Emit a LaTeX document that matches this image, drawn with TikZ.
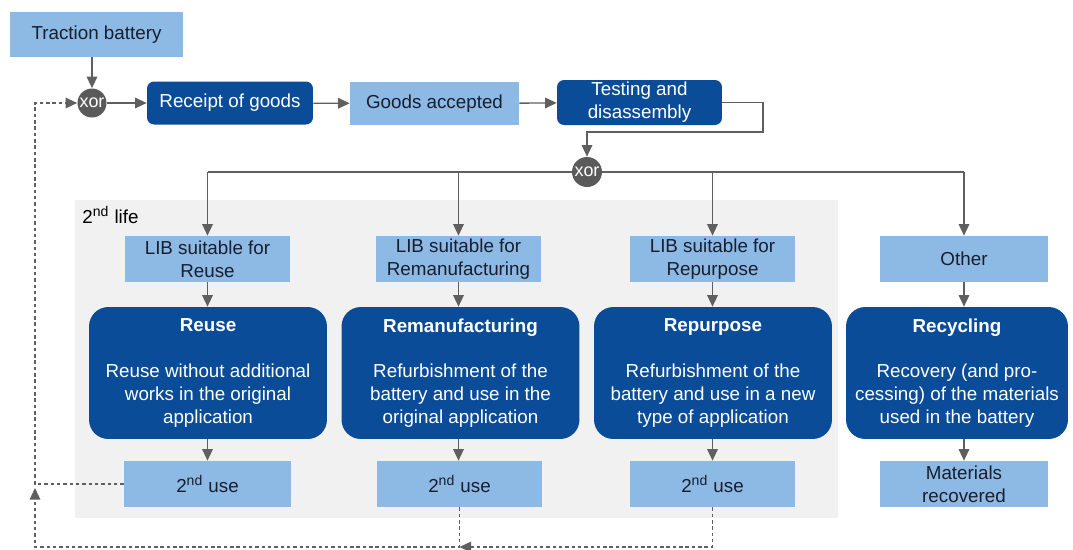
\documentclass[tikz,border=0pt]{standalone}
\usepackage{fontspec}
\setmainfont{Liberation Sans}
\definecolor{lightblue}{RGB}{141, 185, 229}
\definecolor{darkblue}{RGB}{11, 76, 152}
\definecolor{gategray}{RGB}{90, 90, 90}
\definecolor{linegray}{RGB}{95, 95, 95}
\definecolor{lifegray}{RGB}{241, 241, 241}
\definecolor{inktext}{RGB}{25, 30, 45}
\usetikzlibrary{arrows.meta, positioning, calc}
\tikzset{
	lightbox/.style={rectangle, fill=lightblue, align=center, inner sep=0pt, minimum width=3.3cm, minimum height=0.92cm, text=inktext, font=\fontsize{10.7}{13}\selectfont},
	darkbox/.style={rectangle, rounded corners=4pt, fill=darkblue, align=center, inner sep=0pt, minimum width=3.3cm, minimum height=0.86cm, text=white, font=\fontsize{10.7}{13}\selectfont},
	bigbox/.style={rectangle, rounded corners=11pt, fill=darkblue, align=center, inner sep=0pt, minimum width=4.76cm, minimum height=2.64cm, text=white, font=\fontsize{10.7}{13}\selectfont},
	xorgate/.style={circle, fill=gategray, inner sep=0pt, minimum size=0.58cm, text=white, font=\fontsize{10.2}{12}\selectfont},
	flowline/.style={line width=0.8pt, draw=linegray},
	arrow/.style={-{Triangle[length=2.3mm, width=2.1mm]}, line width=0.8pt, draw=linegray},
	backarrow/.style={-{Triangle[length=2.3mm, width=2.1mm]}, line width=0.8pt, draw=linegray, dash pattern=on 2pt off 1.6pt},
}
\newcommand{\nd}{\textsuperscript{\fontsize{8}{9}\selectfont nd}}

\begin{document}
\begin{tikzpicture}[x=0.02cm, y=-0.02cm]
	\useasboundingbox (0,0) rectangle (1073,549);
	% 2nd life area
	\fill[lifegray] (75,200) rectangle (838,518);
	\node[anchor=west, inner sep=0pt, font=\fontsize{10.7}{13}\selectfont] (lifelabel) at (82,215) {2\nd{} life};

	% top row
	\node[lightbox, minimum width=3.46cm, minimum height=0.9cm] (battery) at (96.5,34.5) {Traction battery};
	\node[xorgate] (xorA) at (92,103) {xor};
	\node[darkbox, minimum width=3.32cm] (receipt) at (230,103) {Receipt of goods};
	\node[lightbox, minimum width=3.38cm, minimum height=0.86cm] (accepted) at (434.5,103.5) {Goods accepted};
	\node[darkbox, minimum height=0.9cm] (testing) at (639.5,102.5) {Testing and\\disassembly};
	\node[xorgate, minimum size=0.6cm] (xorB) at (587,172) {xor};
	\coordinate (turn) at (763,132);

	% options
	\node[lightbox] (suitA) at (207.5,259) {LIB suitable for\\Reuse};
	\node[lightbox] (suitB) at (458.5,259) {LIB suitable for\\Remanufacturing};
	\node[lightbox] (suitC) at (712.5,259) {LIB suitable for\\Repurpose};
	\node[lightbox, minimum width=3.36cm] (other) at (964,259) {Other};

	\node[bigbox] (reuse) at (208,373) {\textbf{Reuse}\\[13pt]Reuse without additional\\works in the original\\application};
	\node[bigbox] (reman) at (460.5,373) {\textbf{Remanufacturing}\\[13pt]Refurbishment of the\\battery and use in the\\original application};
	\node[bigbox] (repurp) at (713,373) {\textbf{Repurpose}\\[13pt]Refurbishment of the\\battery and use in a new\\type of application};
	\node[bigbox, minimum width=4.44cm] (recyc) at (957,373) {\textbf{Recycling}\\[13pt]Recovery (and pro-\\cessing) of the materials\\used in the battery};

	\node[lightbox, minimum width=3.34cm] (useA) at (207.5,484) {2\nd{} use};
	\node[lightbox] (useB) at (459.5,484) {2\nd{} use};
	\node[lightbox] (useC) at (712.5,484) {2\nd{} use};
	\node[lightbox, minimum width=3.36cm] (matrec) at (964,484) {Materials\\recovered};
	\coordinate (loopcorner) at (35,547);

	% main flow
	\draw[arrow] (xorA |- battery.south) -- (xorA.north);
	\draw[arrow] (xorA) -- (receipt);
	\draw[arrow] (receipt) -- (accepted);
	\draw[arrow] (accepted) -- (testing);
	\draw[arrow] (testing.east) -| (turn) -| (xorB.north);
	\draw[flowline] (suitA |- xorB) -- (xorB.west);
	\draw[flowline] (xorB.east) -- (other |- xorB);
	\foreach \s/\b/\u in {suitA/reuse/useA, suitB/reman/useB, suitC/repurp/useC, other/recyc/matrec} {
		\draw[arrow] (\s |- xorB) -- (\s.north);
		\draw[arrow] (\s.south) -- (\s |- \b.north);
		\draw[arrow] (\s |- \b.south) -- (\s |- \u.north);
	}

	% loops back
	\draw[backarrow] (useC.south) |- (useB |- loopcorner);
	\draw[backarrow] (useB.south) |- (loopcorner) -- ($(loopcorner |- useA)+(0,4)$);
	\draw[backarrow] (useA.west) -| (loopcorner |- xorA) -- (xorA.west);
\end{tikzpicture}
\end{document}
